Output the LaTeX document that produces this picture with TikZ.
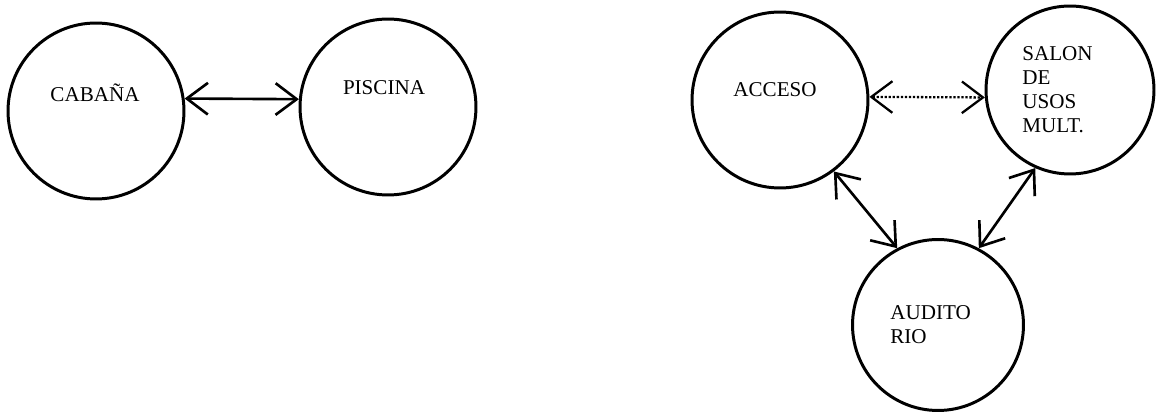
\documentclass[tikz,border=0pt]{standalone}
\usepackage{fontspec}
\setmainfont{Liberation Serif}
\usepackage{tikz}
\usetikzlibrary{calc}
\usetikzlibrary{arrows.meta}
\tikzstyle{place}=[circle, draw=black, line width=1.7pt, inner sep=0pt]
\tikzstyle{tag}=[inner sep=0pt, font=\fontsize{12}{13.6}\selectfont]
\tikzstyle{link}=[<->, line width=1.5pt]
\begin{document}
\begin{tikzpicture}[x=0.02cm, y=0.02cm, >={Straight Barb[length=12pt,width=18pt]}]
    \useasboundingbox (0,0) rectangle (1159,412);

    %left pair
    \node [place, minimum size=3.52cm] (cabana) at (96,301) {};
    \node [place, minimum size=3.52cm] (piscina) at (388,305) {};
    \node [tag] (cabanatxt) at (95,319) {CABAÑA};
    \node [tag] (piscinatxt) at (384,324) {PISCINA};

    %right group
    \node [place, minimum size=3.52cm] (acceso) at (780,312) {};
    \node [place, minimum size=3.36cm] (salon) at (1070,322) {};
    \node [place, minimum size=3.42cm] (auditorio) at (938,87) {};
    \node [tag] (accesotxt) at (775,322) {ACCESO};
    \node [tag, anchor=west, align=left] (salontxt) at (1022,322) {SALON\\DE\\USOS\\MULT.};
    \node [tag, anchor=west, align=left] (auditoriotxt) at (890,87) {AUDITO\\RIO};

    %connections
    \draw [link] (cabana.8) -- (piscina.175);
    \draw [<->, line width=1.3pt, densely dotted] (acceso.2) -- (salon.185);
    \draw [link] (acceso.-53) -- (auditorio.118);
    \draw [link] (salon.246) -- (auditorio.62);

\end{tikzpicture}
\end{document}
